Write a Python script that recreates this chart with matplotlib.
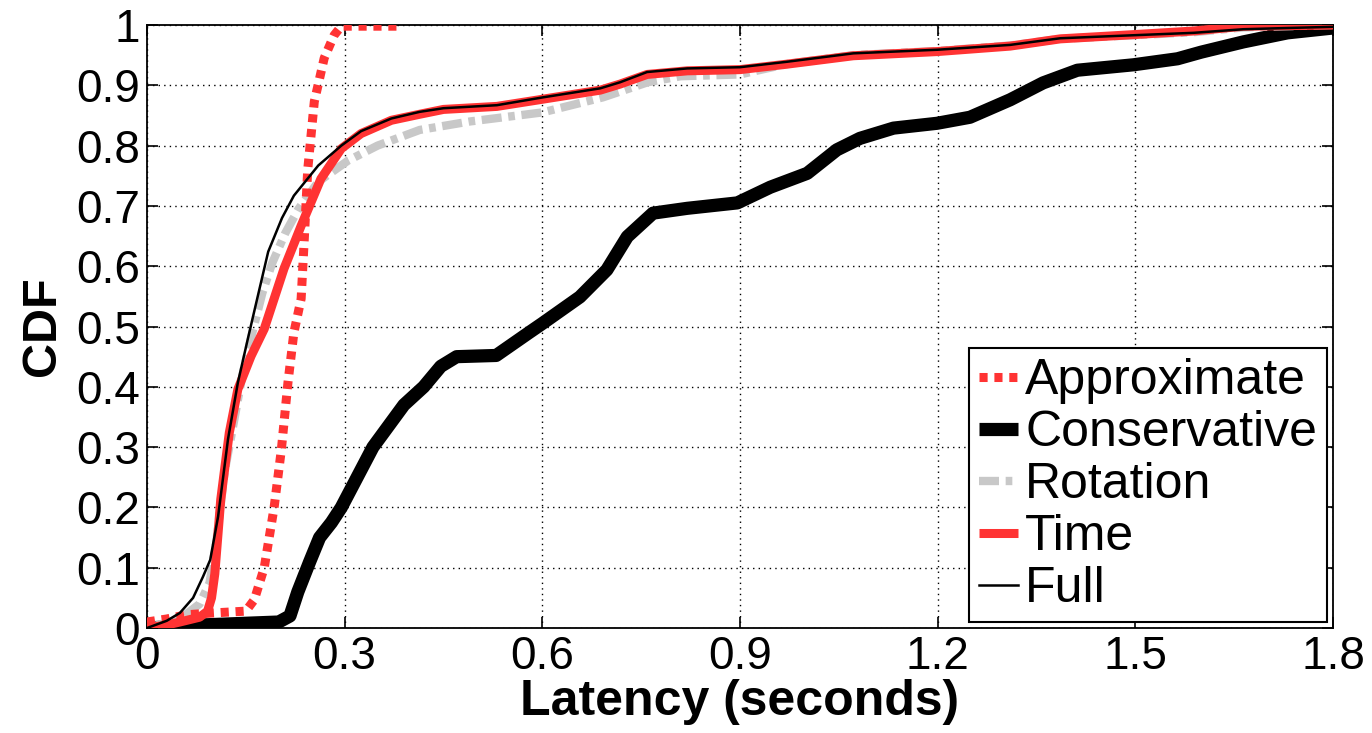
import matplotlib
matplotlib.use("Agg")
import matplotlib.pyplot as plt

# CDF curves of latency for each scheme (seconds, fraction)
approx_x = [0, 0.03, 0.06, 0.10, 0.15, 0.163, 0.178, 0.193, 0.204, 0.214, 0.223,
            0.234, 0.239, 0.244, 0.254, 0.269, 0.284, 0.295, 0.38]
approx_y = [0.01, 0.015, 0.022, 0.025, 0.028, 0.047, 0.10, 0.20, 0.296, 0.407, 0.49,
            0.546, 0.65, 0.76, 0.873, 0.945, 0.983, 0.998, 0.998]

cons_x = [0, 0.08, 0.20, 0.217, 0.229, 0.247, 0.262, 0.28, 0.295, 0.343, 0.39, 0.42,
          0.446, 0.47, 0.53, 0.58, 0.60, 0.657, 0.698, 0.729, 0.768, 0.82, 0.896,
          0.946, 1.002, 1.047, 1.082, 1.133, 1.199, 1.249, 1.31, 1.36, 1.412, 1.497,
          1.564, 1.60, 1.664, 1.731, 1.80]
cons_y = [0, 0.005, 0.01, 0.02, 0.06, 0.11, 0.15, 0.175, 0.20, 0.30, 0.37, 0.40,
          0.434, 0.45, 0.452, 0.49, 0.505, 0.549, 0.594, 0.649, 0.688, 0.696, 0.705,
          0.731, 0.754, 0.793, 0.812, 0.829, 0.837, 0.847, 0.876, 0.904, 0.925, 0.934,
          0.944, 0.955, 0.972, 0.987, 0.995]

rot_x = [0, 0.05, 0.08, 0.095, 0.105, 0.118, 0.13, 0.145, 0.16, 0.175, 0.19, 0.21,
         0.23, 0.26, 0.305, 0.35, 0.414, 0.49, 0.60, 0.692, 0.76, 0.81, 0.90,
         0.97, 1.072, 1.20, 1.31, 1.386, 1.497, 1.588, 1.664, 1.80]
rot_y = [0, 0.015, 0.04, 0.075, 0.14, 0.26, 0.33, 0.42, 0.49, 0.555, 0.605, 0.655,
         0.695, 0.74, 0.775, 0.80, 0.826, 0.84, 0.855, 0.88, 0.905, 0.915, 0.918,
         0.935, 0.95, 0.957, 0.966, 0.977, 0.983, 0.988, 0.996, 1.0]

time_x = [0, 0.03, 0.05, 0.08, 0.092, 0.098, 0.103, 0.112, 0.125, 0.138, 0.158,
          0.178, 0.193, 0.208, 0.234, 0.264, 0.295, 0.325, 0.371, 0.414, 0.45, 0.531,
          0.601, 0.688, 0.718, 0.759, 0.82, 0.90, 0.971, 1.072, 1.20, 1.31, 1.386,
          1.497, 1.588, 1.664, 1.80]
time_y = [0, 0.005, 0.01, 0.018, 0.028, 0.05, 0.09, 0.213, 0.324, 0.396, 0.451,
          0.496, 0.546, 0.596, 0.667, 0.745, 0.795, 0.82, 0.842, 0.852, 0.86, 0.865,
          0.877, 0.892, 0.902, 0.918, 0.924, 0.926, 0.935, 0.949, 0.956, 0.965, 0.977,
          0.984, 0.99, 0.998, 1.0]

full_x = [0, 0.03, 0.05, 0.07, 0.085, 0.096, 0.108, 0.123, 0.138, 0.153, 0.166,
          0.184, 0.205, 0.223, 0.26, 0.295, 0.325, 0.371, 0.414, 0.45, 0.531, 0.601,
          0.688, 0.718, 0.759, 0.82, 0.90, 0.971, 1.072, 1.20, 1.31, 1.386, 1.497,
          1.588, 1.664, 1.73, 1.80]
full_y = [0, 0.012, 0.025, 0.05, 0.085, 0.113, 0.185, 0.313, 0.407, 0.479, 0.54,
          0.624, 0.68, 0.717, 0.767, 0.80, 0.824, 0.845, 0.856, 0.862, 0.867, 0.88,
          0.895, 0.905, 0.922, 0.928, 0.93, 0.939, 0.953, 0.959, 0.967, 0.978, 0.983,
          0.987, 0.993, 0.995, 0.997]

x_ticks = [0, 0.3, 0.6, 0.9, 1.2, 1.5, 1.8]
x_ticklabels = ["0", "0.3", "0.6", "0.9", "1.2", "1.5", "1.8"]
y_ticks = [0, 0.1, 0.2, 0.3, 0.4, 0.5, 0.6, 0.7, 0.8, 0.9, 1.0]
y_ticklabels = ["0", "0.1", "0.2", "0.3", "0.4", "0.5", "0.6", "0.7", "0.8", "0.9", "1"]

RED = "#ff3333"
GRAY = "#c8c8c8"

plt.rcParams["font.family"] = ["Liberation Sans", "DejaVu Sans"]

fig = plt.figure(figsize=(13.72, 7.33), dpi=100)
ax = fig.add_axes([0.1071, 0.1432, 0.8645, 0.8227])

ax.plot(approx_x, approx_y, color=RED, lw=6.5, dashes=(0.9, 0.75),
        dash_capstyle="butt", dash_joinstyle="round", label="Approximate", zorder=3)
ax.plot(cons_x, cons_y, color="black", lw=9.5, solid_capstyle="butt",
        solid_joinstyle="round", label="Conservative", zorder=2)
ax.plot(rot_x, rot_y, color=GRAY, lw=6, dashes=(2.4, 0.8, 0.8, 0.8),
        dash_capstyle="butt", dash_joinstyle="round", label="Rotation", zorder=2)
ax.plot(time_x, time_y, color=RED, lw=6.5, solid_capstyle="butt",
        solid_joinstyle="round", label="Time", zorder=3)
ax.plot(full_x, full_y, color="black", lw=1.8, solid_joinstyle="round",
        label="Full", zorder=4)

ax.set_xlim(0, 1.8)
ax.set_ylim(0, 1)
ax.set_xticks(x_ticks)
ax.set_xticklabels(x_ticklabels)
ax.set_yticks(y_ticks)
ax.set_yticklabels(y_ticklabels)
ax.tick_params(direction="in", length=8, width=1.2, labelsize=33,
               top=True, right=True)
ax.tick_params(axis="x", pad=5)
ax.tick_params(axis="y", pad=5)
ax.grid(True, color="black", linestyle=(0, (1, 3)), linewidth=1.0)
for sp in ax.spines.values():
    sp.set_linewidth(1.3)

ax.set_xlabel("Latency (seconds)", fontsize=36, fontweight="bold", labelpad=0)
ax.set_ylabel("CDF", fontsize=35, fontweight="bold", labelpad=8)

leg = ax.legend(loc="lower right", bbox_to_anchor=(0.995, 0.01), borderaxespad=0,
                fontsize=36, handlelength=0.78, handletextpad=0.15,
                labelspacing=0.12, borderpad=0.2, fancybox=False, framealpha=1)
leg.get_frame().set_edgecolor("black")
leg.get_frame().set_linewidth(1.5)

fig.savefig("out.png", dpi=100)
